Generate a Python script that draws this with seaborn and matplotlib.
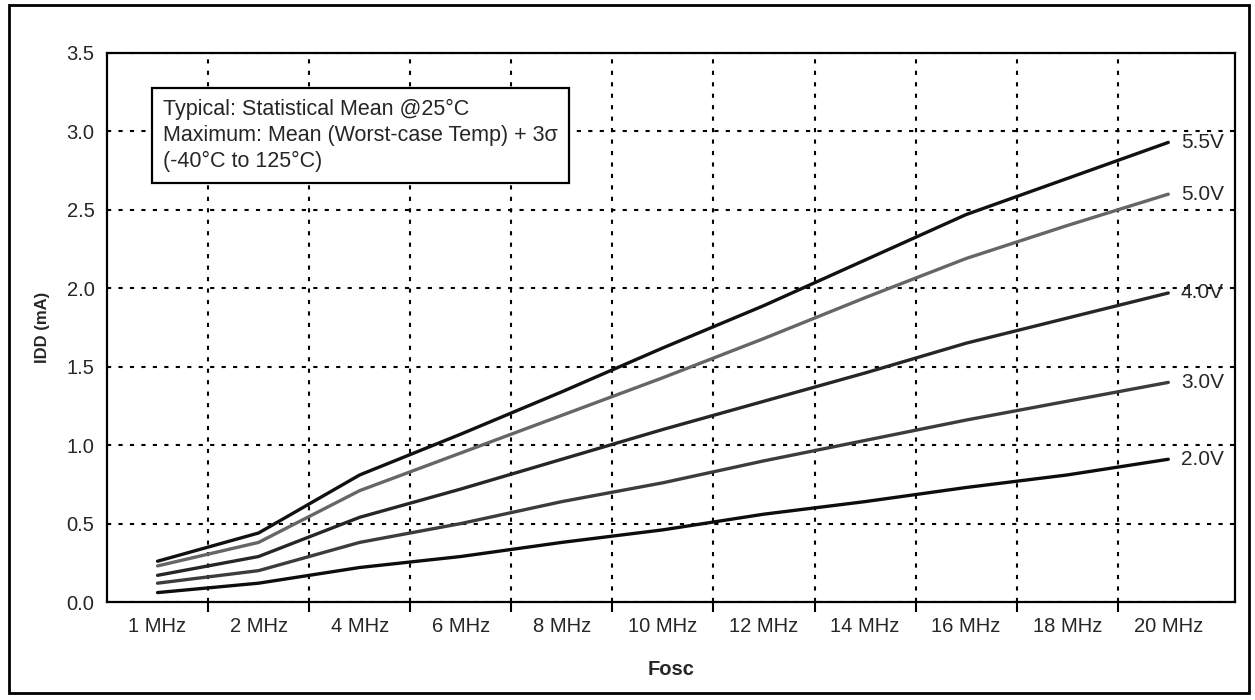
import numpy as np
import pandas as pd
import seaborn as sns
from matplotlib import pyplot as plt
from matplotlib.patches import Rectangle

# frequency categories on the x axis
freqs = ['1 MHz', '2 MHz', '4 MHz', '6 MHz', '8 MHz', '10 MHz',
         '12 MHz', '14 MHz', '16 MHz', '18 MHz', '20 MHz']

# IDD (mA), one list per VDD
idd_55 = [0.26, 0.44, 0.81, 1.07, 1.34, 1.62, 1.89, 2.18, 2.47, 2.70, 2.93]
idd_50 = [0.23, 0.38, 0.71, 0.95, 1.19, 1.43, 1.68, 1.94, 2.19, 2.40, 2.60]
idd_40 = [0.17, 0.29, 0.54, 0.72, 0.91, 1.10, 1.28, 1.46, 1.65, 1.81, 1.97]
idd_30 = [0.12, 0.20, 0.38, 0.50, 0.64, 0.76, 0.90, 1.03, 1.16, 1.28, 1.40]
idd_20 = [0.06, 0.12, 0.22, 0.29, 0.38, 0.46, 0.56, 0.64, 0.73, 0.81, 0.91]

volts = ['5.5V', '5.0V', '4.0V', '3.0V', '2.0V']
series = [idd_55, idd_50, idd_40, idd_30, idd_20]

rows = []
for v, vals in zip(volts, series):
    for i, y in enumerate(vals):
        rows.append({'pos': i, 'IDD': y, 'VDD': v})
df = pd.DataFrame(rows)

pallete = {'5.5V': '#111111', '5.0V': '#666666', '4.0V': '#262626',
           '3.0V': '#3c3c3c', '2.0V': '#0d0d0d'}

sns.set_theme(style="ticks")
plt.rcParams['font.family'] = ['Liberation Sans', 'DejaVu Sans']

fig = plt.figure(figsize=(12.55, 7.0), dpi=100)
ax = fig.add_axes([107/1255, 1 - 602/700, (1235 - 107)/1255, (602 - 53)/700])

sns.lineplot(data=df, x='pos', y='IDD', hue='VDD', palette=pallete,
             linewidth=2.4, legend=False, ax=ax)

ax.set_xlim(-0.5, 10.66)
ax.set_ylim(0, 3.5)
ax.set_xticks(range(len(freqs)))
ax.set_xticklabels(freqs, fontsize=14.5)
ax.set_xticks(np.arange(0.5, 10, 1), minor=True)
ax.tick_params(axis='x', which='major', length=0, pad=11)
ax.tick_params(axis='x', which='minor', length=7, width=1.5, color='black', direction='out')
ax.set_yticks(np.arange(0, 3.51, 0.5))
ax.set_yticklabels(['%.1f' % t for t in np.arange(0, 3.51, 0.5)], fontsize=14.5)
ax.tick_params(axis='y', length=0, pad=9)

ax.grid(False)
ax.xaxis.grid(True, which='minor', color='black', linestyle=(0, (2, 3.5)), linewidth=1.5)
ax.yaxis.grid(True, which='major', color='black', linestyle=(0, (2, 3.5)), linewidth=1.5)
ax.set_axisbelow(True)
for s in ax.spines.values():
    s.set_visible(True)
    s.set_linewidth(1.6)
    s.set_color('black')

ax.set_xlabel('Fosc', fontsize=14.5, fontweight='bold', labelpad=17)
ax.set_ylabel('IDD (mA)', fontsize=12, fontweight='bold', labelpad=12)

for v, vals in zip(volts, series):
    ax.annotate(v, xy=(len(vals) - 1, vals[-1]), xytext=(9, 0),
                textcoords='offset points', va='center', ha='left', fontsize=15)

ax.text((163 - 107) / 1128, (602 - 99) / 549,
        'Typical: Statistical Mean @25°C\nMaximum: Mean (Worst-case Temp) + 3σ\n(-40°C to 125°C)',
        transform=ax.transAxes, fontsize=15.5, va='top', ha='left', linespacing=1.3,
        bbox=dict(boxstyle='square,pad=0.5', facecolor='white', edgecolor='black', linewidth=1.6))

fig.patches.append(Rectangle((9/1255, 1 - 693/700), (1249 - 9)/1255, (693 - 5)/700,
                             transform=fig.transFigure, fill=False, edgecolor='black',
                             linewidth=2))

plt.savefig('out.png', dpi=100)
